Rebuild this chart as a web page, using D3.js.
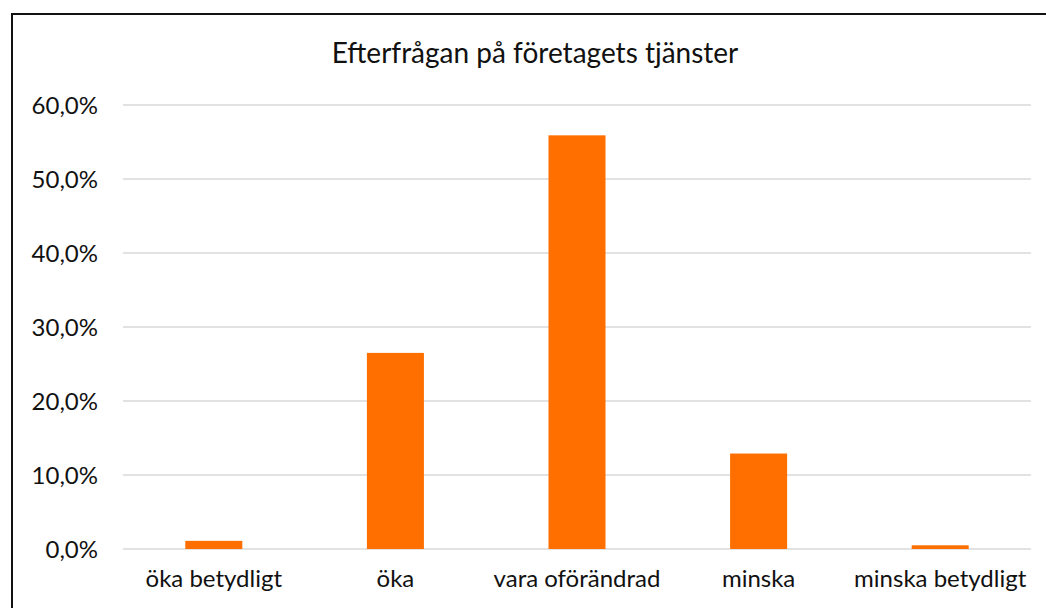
<!DOCTYPE html>
<html>
<head>
<meta charset="utf-8">
<script src="https://cdn.jsdelivr.net/npm/d3@7"></script>
<style>
  body { margin: 0; background: #fff; }
  text { font-family: "Lato", "Noto Sans", sans-serif; fill: #111; }
</style>
</head>
<body>
<div id="chart"></div>
<script>
const WIDTH = 1046;
const HEIGHT = 608;
const MARGIN = {left: 123, right: 15, top: 105, bottom: 59};

const categories = ["öka betydligt", "öka", "vara oförändrad", "minska", "minska betydligt"];
const values = [1.1, 26.5, 55.9, 12.9, 0.5];
const yTicks = [0, 10, 20, 30, 40, 50, 60];
const title = "Efterfrågan på företagets tjänster";

const svg = d3.select("#chart")
  .append("svg")
    .attr("width", WIDTH)
    .attr("height", HEIGHT);

// outer frame
svg.append("rect")
  .attr("x", 12).attr("y", 14)
  .attr("width", WIDTH + 10).attr("height", HEIGHT + 10)
  .attr("fill", "none")
  .attr("stroke", "#111")
  .attr("stroke-width", 2);

const VIS_W = WIDTH - MARGIN.left - MARGIN.right;
const VIS_H = HEIGHT - MARGIN.top - MARGIN.bottom;

const x = d3.scaleBand()
  .domain(categories)
  .range([MARGIN.left, MARGIN.left + VIS_W])
  .paddingInner(0.686)
  .paddingOuter(0.343);

const y = d3.scaleLinear()
  .domain([0, 60])
  .range([MARGIN.top + VIS_H, MARGIN.top]);

// gridlines
svg.append("g")
  .selectAll("line")
  .data(yTicks)
  .enter()
  .append("line")
    .attr("x1", MARGIN.left)
    .attr("x2", MARGIN.left + VIS_W)
    .attr("y1", d => y(d))
    .attr("y2", d => y(d))
    .attr("stroke", "#e2e2e2")
    .attr("stroke-width", 2);

// y axis labels
const yAxis = svg.append("g")
  .attr("transform", "translate(" + (MARGIN.left - 25) + ",0)")
  .call(d3.axisLeft(y).tickValues(yTicks).tickSize(0)
    .tickFormat(d => d3.format(".1f")(d).replace(".", ",") + "%"));
yAxis.select(".domain").remove();
yAxis.selectAll("text")
  .attr("font-size", "24px")
  .attr("font-family", "Lato, 'Noto Sans', sans-serif")
  .attr("fill", "#111")
  .attr("x", 0)
  .attr("dy", "0.35em");

// bars
svg.append("g")
  .selectAll("rect")
  .data(values)
  .enter()
  .append("rect")
    .attr("x", (d, i) => x(categories[i]))
    .attr("y", d => y(d))
    .attr("width", x.bandwidth())
    .attr("height", d => y(0) - y(d))
    .attr("fill", "#ff6f00");

// x axis labels
const xAxis = svg.append("g")
  .attr("transform", "translate(0," + (MARGIN.top + VIS_H) + ")")
  .call(d3.axisBottom(x).tickSize(0));
xAxis.select(".domain").remove();
xAxis.selectAll("text")
  .attr("font-size", "24px")
  .attr("font-family", "Lato, 'Noto Sans', sans-serif")
  .attr("fill", "#111")
  .attr("y", 21)
  .attr("dy", "0.71em");

// title
svg.append("text")
  .attr("x", 535)
  .attr("y", 63)
  .attr("text-anchor", "middle")
  .attr("font-size", "28px")
  .text(title);
</script>
</body>
</html>
